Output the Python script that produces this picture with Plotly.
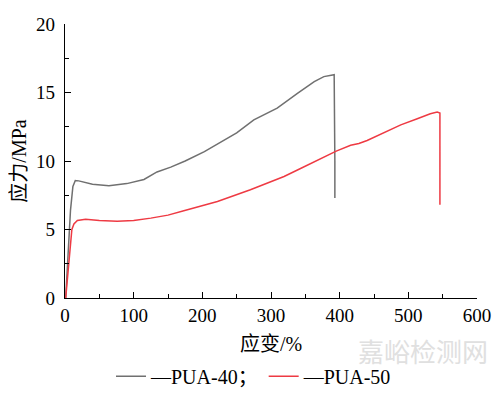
import plotly.graph_objects as go

# PUA-40 (gray) strain (%) / stress (MPa)
pua40_strain = [1, 4, 8, 11.5, 15, 20, 28, 40, 64, 90, 115, 134, 154, 175, 203, 232, 250, 275, 309, 339, 363, 377, 385, 392, 393, 393]
pua40_stress = [0, 2.8, 6.4, 8.14, 8.58, 8.55, 8.45, 8.3, 8.2, 8.35, 8.65, 9.2, 9.55, 10.0, 10.69, 11.5, 12.05, 13.0, 13.86, 14.95, 15.8, 16.16, 16.25, 16.3, 10.0, 7.3]

# PUA-50 (red)
pua50_strain = [1, 4, 7, 10, 13, 18, 30, 50, 76, 100, 125, 150, 173, 222, 270, 319, 343, 368, 395, 416, 428, 440, 465, 489, 513, 532, 542, 546, 546]
pua50_stress = [0, 1.85, 3.6, 5.0, 5.4, 5.66, 5.75, 5.65, 5.6, 5.65, 5.83, 6.05, 6.37, 7.05, 7.9, 8.87, 9.45, 10.05, 10.72, 11.15, 11.28, 11.5, 12.08, 12.64, 13.08, 13.45, 13.57, 13.5, 6.8]

x_ticks = [0, 100, 200, 300, 400, 500, 600]
y_ticks = [0, 5, 10, 15, 20]

FONT = "Liberation Serif, Noto Sans CJK SC, serif"

fig = go.Figure()
fig.add_trace(go.Scatter(x=pua40_strain, y=pua40_stress, mode="lines",
                         name="—PUA-40；", line=dict(color="#707070", width=1.5)))
fig.add_trace(go.Scatter(x=pua50_strain, y=pua50_stress, mode="lines",
                         name="—PUA-50", line=dict(color="#ee3a43", width=1.5)))

axis_common = dict(
    showline=True, linecolor="black", linewidth=1.2, mirror=False,
    ticks="inside", ticklen=6, tickwidth=1.2, tickcolor="black",
    showgrid=False, zeroline=False, automargin=False,
    tickfont=dict(family=FONT, size=19, color="black"),
)

fig.update_xaxes(range=[0, 600], tickvals=x_ticks,
                 minor=dict(ticks="inside", ticklen=3.5, tickwidth=1.2, tickcolor="black", dtick=50, showgrid=False),
                 title=dict(text="应变/%", font=dict(family=FONT, size=20, color="black"), standoff=12),
                 **axis_common)
fig.update_yaxes(range=[0, 20], tickvals=y_ticks, ticklabelstandoff=5,
                 minor=dict(ticks="inside", ticklen=3.5, tickwidth=1.2, tickcolor="black", dtick=2.5, showgrid=False),
                 title=dict(text="应力/MPa", font=dict(family=FONT, size=20, color="black"), standoff=14),
                 **axis_common)

fig.update_layout(
    width=492, height=386,
    margin=dict(l=57, r=23, t=16, b=96),
    plot_bgcolor="white", paper_bgcolor="white",
    font=dict(family=FONT, color="black"),
    legend=dict(orientation="h", xref="container", yref="container",
                x=0.5, xanchor="center", y=0.046, yanchor="middle",
                font=dict(family=FONT, size=20, color="black"),
                itemwidth=30, tracegroupgap=0, bgcolor="rgba(0,0,0,0)"),
    annotations=[
        dict(text="嘉峪检测网", xref="paper", yref="paper", x=1.032, y=-0.192,
             xanchor="right", yanchor="middle", showarrow=False,
             font=dict(family="Noto Sans CJK SC", size=26, color="#e0e0e0")),
    ],
)

fig.write_html("out.html")
